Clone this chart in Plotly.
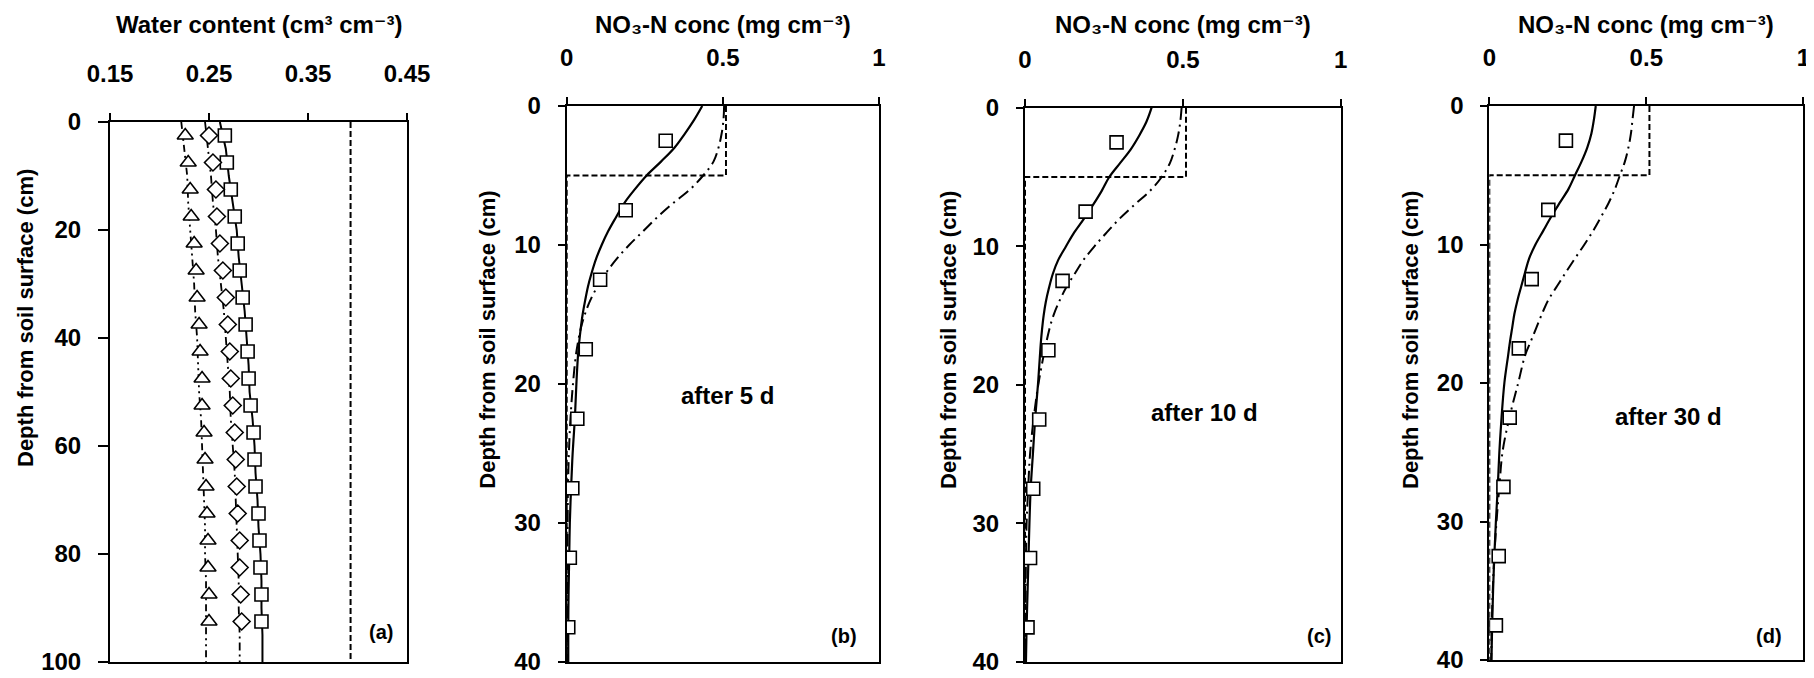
import plotly.graph_objects as go

# ---------------- data ----------------
# Panel (a): water content profiles
depth_a_obs = [2.5, 7.5, 12.5, 17.5, 22.5, 27.5, 32.5, 37.5, 42.5, 47.5,
               52.5, 57.5, 62.5, 67.5, 72.5, 77.5, 82.5, 87.5, 92.5]
wc_sq_obs = [0.266, 0.268, 0.272, 0.276, 0.279, 0.281, 0.284, 0.287, 0.289, 0.290,
             0.292, 0.295, 0.296, 0.297, 0.300, 0.301, 0.302, 0.303, 0.303]
wc_di_obs = [0.250, 0.254, 0.257, 0.258, 0.261, 0.264, 0.267, 0.269, 0.271, 0.272,
             0.274, 0.276, 0.277, 0.278, 0.279, 0.281, 0.281, 0.282, 0.283]
wc_tr_obs = [0.226, 0.229, 0.231, 0.232, 0.235, 0.237, 0.238, 0.240, 0.241, 0.243,
             0.243, 0.245, 0.246, 0.247, 0.248, 0.249, 0.249, 0.250, 0.250]

depth_a_sim = [0, 5, 10, 15, 20, 25, 30, 35, 40, 45, 50,
               55, 60, 65, 70, 75, 80, 85, 90, 95, 100]
wc_sq_sim = [0.261, 0.267, 0.270, 0.274, 0.278, 0.280, 0.283, 0.286, 0.288, 0.290, 0.291,
             0.294, 0.296, 0.297, 0.299, 0.300, 0.302, 0.303, 0.303, 0.304, 0.304]
wc_di_sim = [0.246, 0.249, 0.252, 0.254, 0.257, 0.259, 0.262, 0.265, 0.267, 0.269, 0.271,
             0.272, 0.274, 0.276, 0.277, 0.278, 0.279, 0.280, 0.280, 0.281, 0.281]
wc_tr_sim = [0.222, 0.225, 0.228, 0.229, 0.231, 0.233, 0.235, 0.236, 0.238, 0.239, 0.240,
             0.242, 0.243, 0.244, 0.245, 0.246, 0.246, 0.247, 0.247, 0.247, 0.247]
wc_sat = 0.393
depth_sat = [0, 100]

# Panels (b)-(d): NO3-N concentration profiles
depth_obs = [2.5, 7.5, 12.5, 17.5, 22.5, 27.5, 32.5, 37.5]
obs_5d = [0.317, 0.189, 0.107, 0.061, 0.034, 0.018, 0.010, 0.005]
obs_10d = [0.290, 0.192, 0.119, 0.074, 0.045, 0.026, 0.016, 0.008]
obs_30d = [0.244, 0.188, 0.135, 0.094, 0.065, 0.045, 0.030, 0.021]

depth_sim = [0, 1, 2, 3, 4, 5, 6, 7, 8, 9, 10, 11, 12, 13, 14, 15, 16, 17, 18,
             20, 22.5, 25, 27.5, 30, 32.5, 35, 37.5, 40]
sim1_5d = [0.434, 0.408, 0.378, 0.345, 0.302, 0.256, 0.218, 0.184, 0.158, 0.133, 0.112,
           0.094, 0.080, 0.068, 0.059, 0.051, 0.045, 0.040, 0.036,
           0.031, 0.026, 0.019, 0.014, 0.010, 0.008, 0.006, 0.005, 0.005]
sim2_5d = [0.504, 0.502, 0.496, 0.486, 0.470, 0.437, 0.395, 0.340, 0.290, 0.245, 0.200,
           0.160, 0.126, 0.098, 0.075, 0.058, 0.045, 0.036, 0.029,
           0.020, 0.012, 0.007, 0.004, 0.003, 0.002, 0.002, 0.001, 0.001]
sim1_10d = [0.401, 0.385, 0.362, 0.335, 0.301, 0.267, 0.243, 0.216, 0.187, 0.156, 0.130,
            0.105, 0.088, 0.076, 0.066, 0.059, 0.054, 0.050, 0.047,
            0.041, 0.032, 0.025, 0.018, 0.014, 0.011, 0.008, 0.005, 0.003]
sim2_10d = [0.496, 0.492, 0.485, 0.474, 0.459, 0.433, 0.396, 0.347, 0.300, 0.259, 0.220,
            0.185, 0.157, 0.130, 0.108, 0.090, 0.077, 0.067, 0.058,
            0.042, 0.027, 0.016, 0.010, 0.005, 0.003, 0.002, 0.001, 0.001]
sim1_30d = [0.339, 0.333, 0.325, 0.312, 0.294, 0.273, 0.252, 0.224, 0.197, 0.172, 0.147,
            0.127, 0.114, 0.102, 0.090, 0.080, 0.073, 0.066, 0.060,
            0.048, 0.039, 0.032, 0.027, 0.021, 0.016, 0.012, 0.009, 0.007]
sim2_30d = [0.461, 0.456, 0.451, 0.443, 0.432, 0.416, 0.400, 0.380, 0.356, 0.331, 0.303,
            0.273, 0.244, 0.216, 0.188, 0.168, 0.150, 0.132, 0.114,
            0.092, 0.064, 0.042, 0.032, 0.023, 0.016, 0.011, 0.008, 0.006]

init_conc = [0.51, 0.51, 0, 0]
init_depth = [0, 5, 5, 40]

panel_labels = ["(a)", "(b)", "(c)", "(d)"]
time_labels = ["after 5 d", "after 10 d", "after 30 d"]
title_a = "Water content (cm³ cm⁻³)"
title_n = "NO₃-N conc (mg cm⁻³)"
title_y = "Depth from soil surface (cm)"

# ---------------- figure ----------------
FONT = "Arial, Liberation Sans, DejaVu Sans, sans-serif"
OFF = 8                      # page body margin of the html page
W, H = 1814 - OFF, 678 - OFF
fig = go.Figure()

def px_x(p):
    return (p - OFF) / W

def px_y(p):
    return 1 - (p - OFF) / H

mk = dict(color="white", line=dict(color="black", width=1.6))

# panel a
fig.add_trace(go.Scatter(x=wc_sq_sim, y=depth_a_sim, mode="lines",
                         line=dict(color="black", width=2), xaxis="x", yaxis="y"))
fig.add_trace(go.Scatter(x=wc_di_sim, y=depth_a_sim, mode="lines",
                         line=dict(color="black", width=1.8, dash="8px,4px,2px,4px"),
                         xaxis="x", yaxis="y"))
fig.add_trace(go.Scatter(x=wc_tr_sim, y=depth_a_sim, mode="lines",
                         line=dict(color="black", width=1.8, dash="7px,4px,2px,4px,2px,4px"),
                         xaxis="x", yaxis="y"))
fig.add_trace(go.Scatter(x=[wc_sat, wc_sat], y=depth_sat, mode="lines",
                         line=dict(color="black", width=2, dash="6px,3px"),
                         xaxis="x", yaxis="y"))
fig.add_trace(go.Scatter(x=wc_sq_obs, y=depth_a_obs, mode="markers",
                         marker=dict(symbol="square", size=13, **mk), xaxis="x", yaxis="y"))
fig.add_trace(go.Scatter(x=wc_di_obs, y=depth_a_obs, mode="markers",
                         marker=dict(symbol="diamond", size=13, **mk), xaxis="x", yaxis="y"))
fig.add_trace(go.Scatter(x=wc_tr_obs, y=depth_a_obs, mode="markers",
                         marker=dict(symbol="triangle-up", size=14, **mk), xaxis="x", yaxis="y"))

# panels b-d
sets = [(obs_5d, sim1_5d, sim2_5d), (obs_10d, sim1_10d, sim2_10d), (obs_30d, sim1_30d, sim2_30d)]
for i, (obs, s1, s2) in enumerate(sets):
    xa = "x%d" % (i + 2)
    ya = "y%d" % (i + 2)
    fig.add_trace(go.Scatter(x=init_conc, y=init_depth, mode="lines",
                             line=dict(color="black", width=2, dash="6px,3px"),
                             xaxis=xa, yaxis=ya))
    fig.add_trace(go.Scatter(x=s2, y=depth_sim, mode="lines", line_shape="spline",
                             line=dict(color="black", width=2, dash="12px,5px,2px,5px"),
                             xaxis=xa, yaxis=ya))
    fig.add_trace(go.Scatter(x=s1, y=depth_sim, mode="lines", line_shape="spline",
                             line=dict(color="black", width=2.2), xaxis=xa, yaxis=ya))
    fig.add_trace(go.Scatter(x=obs, y=depth_obs, mode="markers",
                             marker=dict(symbol="square", size=13, **mk), xaxis=xa, yaxis=ya))

tickfont = dict(family=FONT, size=24, color="black", weight="bold")

def xax(domain, rng, dtick, tick0, anchor):
    return dict(domain=domain, range=rng, dtick=dtick, tick0=tick0, side="top", anchor=anchor,
                showline=True, linecolor="black", linewidth=2, mirror=True,
                ticks="outside", ticklen=7, tickwidth=1.5, tickcolor="black",
                showgrid=False, zeroline=False, tickfont=tickfont,
                ticklabelstandoff=21, automargin=False)

def yax(domain, rng, dtick, anchor, ticklen):
    return dict(domain=domain, range=rng, dtick=dtick, anchor=anchor,
                showline=True, linecolor="black", linewidth=2, mirror=True,
                ticks="outside", ticklen=ticklen, tickwidth=1.5, tickcolor="black",
                showgrid=False, zeroline=False, tickfont=tickfont,
                ticklabelstandoff=12, automargin=False)

xd = [[px_x(110), px_x(407)], [px_x(566.7), px_x(879)],
      [px_x(1025), px_x(1340.7)], [px_x(1489.3), px_x(1803.3)]]
yd = [[px_y(662), px_y(122)], [px_y(662), px_y(106)],
      [px_y(662), px_y(107.7)], [px_y(660), px_y(106)]]

layout = dict(
    template="none",
    width=W, height=H, showlegend=False,
    paper_bgcolor="white", plot_bgcolor="white",
    margin=dict(l=0, r=0, t=0, b=0, pad=0),
    xaxis=xax(xd[0], [0.15, 0.45], 0.1, 0.15, "y"),
    yaxis=yax(yd[0], [100, 0], 20, "x", 10),
)
layout["xaxis"]["tickformat"] = ".2f"
for i in range(3):
    n = i + 2
    layout["xaxis%d" % n] = xax(xd[n - 1], [0, 1], 0.5, 0, "y%d" % n)
    layout["yaxis%d" % n] = yax(yd[n - 1], [40, 0], 10, "x%d" % n, 7)
fig.update_layout(**layout)

ann = []
title_font = dict(family=FONT, size=24, color="black", weight="bold")
ytitle_font = dict(family=FONT, size=22, color="black", weight="bold")
# top titles
ann.append(dict(text=title_a, xref="paper", yref="paper",
                x=(xd[0][0] + xd[0][1]) / 2, y=px_y(24), showarrow=False, font=title_font,
                xanchor="center", yanchor="middle"))
for i in range(3):
    cx = (xd[i + 1][0] + xd[i + 1][1]) / 2
    ann.append(dict(text=title_n, xref="paper", yref="paper",
                    x=cx, y=px_y(24), showarrow=False, font=title_font,
                    xanchor="center", yanchor="middle"))
# y titles
ytx = [25, 486.7, 948, 1410]
yty = [318, 340, 340, 340]
for i in range(4):
    ann.append(dict(text=title_y, xref="paper", yref="paper",
                    x=px_x(ytx[i]), y=px_y(yty[i]), textangle=-90, showarrow=False,
                    font=ytitle_font, xanchor="center", yanchor="middle"))
# panel letters
lab_pos = [(0.4234, 94.4), (0.888, 38.1), (0.931, 38.1), (0.892, 38.3)]
for i in range(4):
    suf = "" if i == 0 else str(i + 1)
    ann.append(dict(text=panel_labels[i], xref="x" + suf, yref="y" + suf,
                    x=lab_pos[i][0], y=lab_pos[i][1], showarrow=False,
                    font=dict(family=FONT, size=20, color="black", weight="bold"),
                    xanchor="center", yanchor="middle"))
# time labels
time_pos = [(0.515, 20.8), (0.57, 22.0), (0.57, 22.4)]
for i in range(3):
    suf = str(i + 2)
    ann.append(dict(text=time_labels[i], xref="x" + suf, yref="y" + suf,
                    x=time_pos[i][0], y=time_pos[i][1], showarrow=False,
                    font=title_font, xanchor="center", yanchor="middle"))
fig.update_layout(annotations=ann)

fig.write_html("out.html")
